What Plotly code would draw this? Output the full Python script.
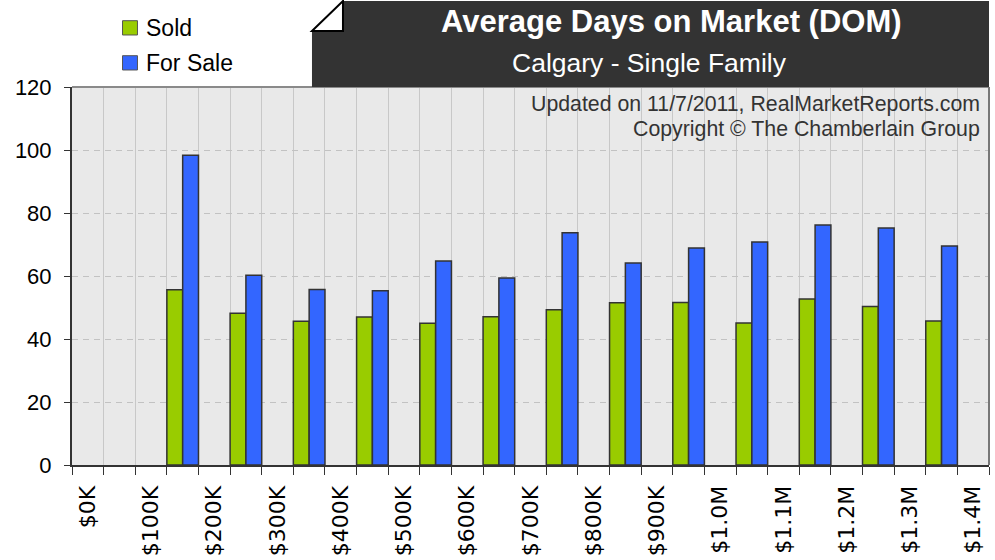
import plotly.graph_objects as go

# ---- data ----
tick_labels = ["$0K", "$100K", "$200K", "$300K", "$400K", "$500K", "$600K", "$700K",
               "$800K", "$900K", "$1.0M", "$1.1M", "$1.2M", "$1.3M", "$1.4M"]
# price band lower bound as index into tick_labels ($100K .. $1.3M)
band_index = [1, 2, 3, 4, 5, 6, 7, 8, 9, 10, 11, 12, 13]
sold = [55.6, 48.2, 45.6, 47.0, 45.0, 47.1, 49.3, 51.5, 51.6, 45.1, 52.7, 50.3, 45.7]
for_sale = [98.3, 60.2, 55.7, 55.3, 64.8, 59.4, 73.7, 64.1, 68.9, 70.8, 76.2, 75.2, 69.5]

GREEN = "#99cc00"
BLUE = "#3366ff"
DARK = "#333333"

# band centres sit between consecutive tick labels
band_x = [2 * i + 1.5 for i in band_index]
label_x = [2 * i + 0.5 for i in range(len(tick_labels))]

fig = go.Figure()
fig.add_trace(go.Bar(x=band_x, y=sold, width=0.5, offset=-0.5, name="Sold",
                     marker=dict(color=GREEN, line=dict(color=DARK, width=1.5))))
fig.add_trace(go.Bar(x=band_x, y=for_sale, width=0.5, offset=0.0, name="For Sale",
                     marker=dict(color=BLUE, line=dict(color=DARK, width=1.5))))

fig.update_layout(
    width=995, height=560, autosize=False,
    margin=dict(l=72, r=6, t=87, b=95, pad=0),
    paper_bgcolor="white", plot_bgcolor="#e9e9e9",
    showlegend=False, barmode="overlay",
    font=dict(family="Liberation Sans, Arial, sans-serif", color="black"),
)

fig.update_xaxes(
    range=[0, 2 * len(tick_labels) - 1], automargin=False,
    tickmode="array", tickvals=label_x, ticktext=tick_labels,
    tickangle=-90, ticks="", showgrid=False, zeroline=False,
    tickfont=dict(family="DejaVu Sans", size=22, color="black"),
    ticklabelstandoff=10,
    showline=True, linecolor=DARK, linewidth=2,
    minor=dict(tick0=0, dtick=1, ticks="outside", ticklen=8, tickcolor=DARK,
               tickwidth=1, showgrid=True, gridcolor="#c8c8c8", gridwidth=1),
)
fig.update_yaxes(
    range=[0, 120], tick0=0, dtick=20, automargin=False,
    ticks="outside", ticklen=6, tickcolor=DARK, tickwidth=1,
    showgrid=True, gridcolor="#c2c2c2", gridwidth=1, griddash="6px,5px",
    zeroline=False, showline=True, linecolor=DARK, linewidth=2,
    tickfont=dict(family="Liberation Sans, Arial", size=22, color="black"),
    ticklabelstandoff=8,
)

shapes = []
# top and right plot borders (grey)
shapes.append(dict(type="line", xref="paper", yref="paper", x0=0, x1=1, y0=1, y1=1,
                   line=dict(color="#8a8a8a", width=2)))
shapes.append(dict(type="line", xref="paper", yref="paper", x0=1, x1=1, y0=0, y1=1,
                   line=dict(color="#777777", width=2)))
# title box with folded corner
shapes.append(dict(type="path", xref="paper", yref="paper",
                   path="M 0.2955,1.2275 L 1.0,1.2275 L 1.0,1.0 L 0.2617,1.0 L 0.2617,1.148 Z",
                   fillcolor="#333333", line=dict(width=0), layer="above"))
shapes.append(dict(type="path", xref="paper", yref="paper",
                   path="M 0.2617,1.148 L 0.2955,1.2275 L 0.2955,1.148 Z",
                   fillcolor="white", line=dict(color="black", width=2), layer="above"))
# legend swatches
shapes.append(dict(type="rect", xref="paper", yref="paper", x0=0.0551, x1=0.0714,
                   y0=1.1376, y1=1.1754, fillcolor=GREEN, line=dict(color="#555", width=1)))
shapes.append(dict(type="rect", xref="paper", yref="paper", x0=0.0551, x1=0.0714,
                   y0=1.045, y1=1.0828, fillcolor=BLUE, line=dict(color="#555", width=1)))
fig.update_layout(shapes=shapes)

annotations = [
    dict(text="<b>Average Days on Market (DOM)</b>", x=0.654, y=1.172, xref="paper", yref="paper",
         xanchor="center", yanchor="middle", showarrow=False,
         font=dict(family="Liberation Sans, Arial", size=31, color="white")),
    dict(text="Calgary - Single Family", x=0.630, y=1.0635, xref="paper", yref="paper",
         xanchor="center", yanchor="middle", showarrow=False,
         font=dict(family="Liberation Sans, Arial", size=26.5, color="white")),
    dict(text="Updated on 11/7/2011, RealMarketReports.com", x=0.9924, y=0.955,
         xref="paper", yref="paper", xanchor="right", yanchor="middle", showarrow=False,
         font=dict(family="Liberation Sans, Arial", size=21.3, color="#333333")),
    dict(text="Copyright © The Chamberlain Group", x=0.9924, y=0.889,
         xref="paper", yref="paper", xanchor="right", yanchor="middle", showarrow=False,
         font=dict(family="Liberation Sans, Arial", size=21.3, color="#333333")),
    dict(text="Sold", x=0.0785, y=1.1567, xref="paper", yref="paper",
         xanchor="left", yanchor="middle", showarrow=False,
         font=dict(family="Liberation Sans, Arial", size=23, color="black")),
    dict(text="For Sale", x=0.0785, y=1.064, xref="paper", yref="paper",
         xanchor="left", yanchor="middle", showarrow=False,
         font=dict(family="Liberation Sans, Arial", size=23, color="black")),
]
fig.update_layout(annotations=annotations)

# remove the page's default 8px body margin so the figure fills the window exactly
fig.write_html("out.html", config={"displayModeBar": False},
               post_script="document.body.style.margin='0';document.body.style.overflow='hidden';")
